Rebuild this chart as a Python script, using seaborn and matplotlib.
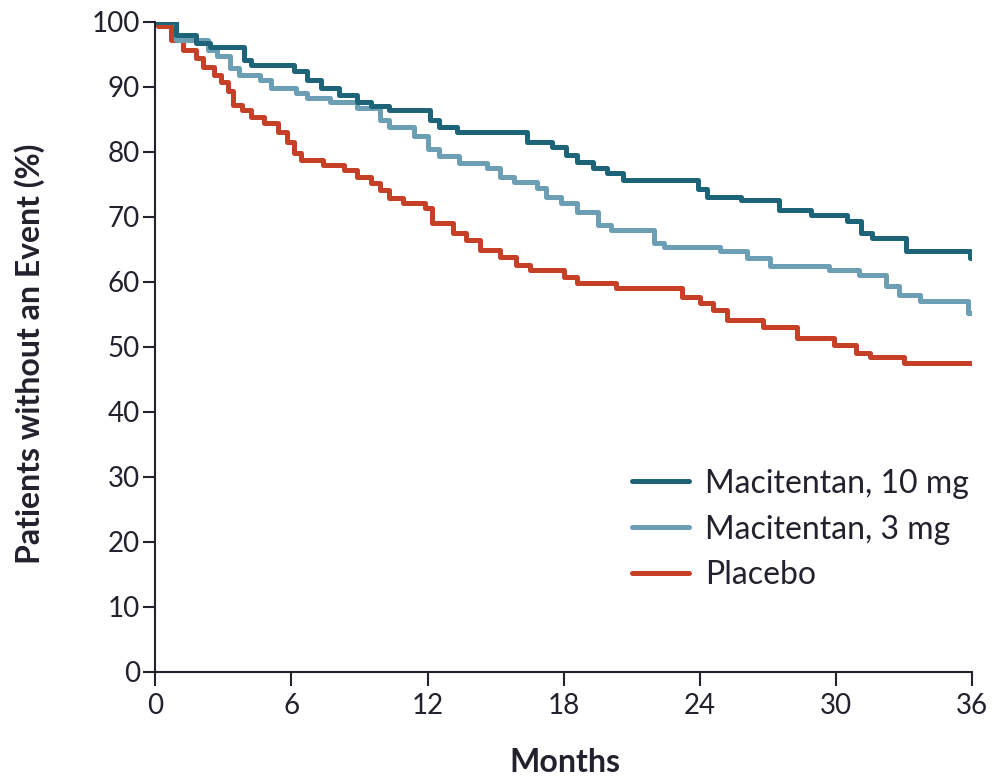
import pandas as pd
import seaborn as sns
import matplotlib.pyplot as plt

# Kaplan-Meier style step data (time in months, % without event)
t_10mg = [0, 0.9, 1.8, 2.4, 3.9, 4.2, 6.1, 6.7, 7.3, 8.1, 8.9, 9.5, 10.3, 12.1, 12.5, 13.3,
          16.4, 17.5, 18.1, 18.6, 19.3, 19.9, 20.6, 23.9, 24.3, 25.8, 27.5, 28.9, 30.5, 31.1,
          31.6, 33.1, 35.9, 36]
s_10mg = [100, 98.0, 96.7, 96.2, 94.2, 93.4, 92.4, 91.1, 89.8, 88.8, 87.7, 87.0, 86.4, 84.9,
          83.9, 83.1, 81.6, 80.8, 79.5, 78.5, 77.5, 76.8, 75.7, 74.3, 73.1, 72.6, 71.1, 70.3,
          69.3, 67.5, 66.8, 64.8, 63.7, 63.7]

t_3mg = [0, 0.9, 2.3, 2.7, 3.3, 3.7, 4.6, 5.1, 6.2, 6.7, 7.7, 8.9, 9.9, 10.3, 11.4, 12.0,
         12.5, 13.4, 14.6, 15.2, 15.8, 16.8, 17.2, 17.9, 18.6, 19.5, 20.1, 22.0, 22.4, 24.9,
         26.1, 27.1, 29.7, 31.0, 32.2, 32.8, 33.7, 35.8, 36]
s_3mg = [100, 97.2, 95.7, 94.7, 92.9, 91.8, 91.1, 89.8, 89.0, 88.3, 87.7, 86.7, 84.9, 83.9,
         82.4, 80.5, 79.3, 78.3, 77.5, 76.2, 75.4, 74.4, 73.1, 72.1, 70.8, 68.8, 68.0, 66.0,
         65.4, 64.7, 63.7, 62.5, 61.8, 61.1, 59.3, 58.0, 57.0, 55.2, 55.2]

t_pbo = [0, 0.1, 0.7, 1.2, 1.8, 2.1, 2.6, 2.9, 3.2, 3.4, 3.8, 4.2, 4.8, 5.4, 5.8, 6.1, 6.4,
         7.4, 8.3, 8.9, 9.5, 9.9, 10.3, 10.9, 11.9, 12.2, 13.1, 13.7, 14.3, 15.2, 15.9, 16.5,
         18.0, 18.6, 20.3, 23.2, 24.0, 24.6, 25.2, 26.8, 28.3, 29.9, 30.9, 31.5, 33.0, 36]
s_pbo = [100, 99.3, 97.2, 95.7, 94.5, 93.1, 91.8, 90.8, 89.3, 87.2, 86.5, 85.4, 84.4, 83.1,
         81.6, 79.8, 78.8, 78.0, 77.2, 76.2, 75.2, 74.2, 72.9, 72.1, 71.3, 69.1, 67.5, 66.5,
         64.9, 63.9, 62.6, 61.8, 60.8, 59.8, 59.1, 57.7, 56.7, 55.7, 54.2, 53.1, 51.4, 50.3,
         49.1, 48.5, 47.5, 47.5]

groups = ['Macitentan, 10 mg', 'Macitentan, 3 mg', 'Placebo']
colors = ['#1d6479', '#6c9fb4', '#c63f27']

df = pd.concat([
    pd.DataFrame({'month': t_10mg, 'pct': s_10mg, 'group': groups[0]}),
    pd.DataFrame({'month': t_3mg, 'pct': s_3mg, 'group': groups[1]}),
    pd.DataFrame({'month': t_pbo, 'pct': s_pbo, 'group': groups[2]}),
])

sns.set_style('ticks')
plt.rcParams['font.family'] = ['Lato', 'DejaVu Sans']
txt = '#22222e'

fig = plt.figure(figsize=(9.96, 7.83), dpi=100)
ax = fig.add_axes([0.156, 0.142, 0.82, 0.830])

# draw placebo first so the teal curves sit on top
for g, c in list(zip(groups, colors))[::-1]:
    sns.lineplot(data=df[df['group'] == g], x='month', y='pct', color=c, linewidth=3.6,
                 drawstyle='steps-post', estimator=None, sort=False, ax=ax, label=g)

ax.set_xlim(0, 36)
ax.set_ylim(0, 100)
ax.set_xticks(range(0, 37, 6))
ax.set_yticks(range(0, 101, 10))
ax.tick_params(axis='both', labelsize=20, colors=txt, width=1.5)
ax.tick_params(axis='x', length=10, pad=5)
ax.tick_params(axis='y', length=9, pad=2)
for s in ['left', 'bottom']:
    ax.spines[s].set_linewidth(1.5)
    ax.spines[s].set_color(txt)
sns.despine(ax=ax)

ax.set_xlabel('Months', fontsize=23, fontweight='bold', color=txt)
ax.set_ylabel('Patients without an Event (%)', fontsize=23, fontweight='bold', color=txt)
ax.xaxis.set_label_coords(0.502, -0.117)
ax.yaxis.set_label_coords(-0.135, 0.49)

handles, labels = ax.get_legend_handles_labels()
order = [labels.index(g) for g in groups]
ax.legend([handles[i] for i in order], groups, loc='upper left',
          bbox_to_anchor=(0.548, 0.357), frameon=False, fontsize=23, handlelength=1.8,
          handletextpad=0.5, labelspacing=0.5, labelcolor=txt)

fig.savefig('out.png', dpi=100)
